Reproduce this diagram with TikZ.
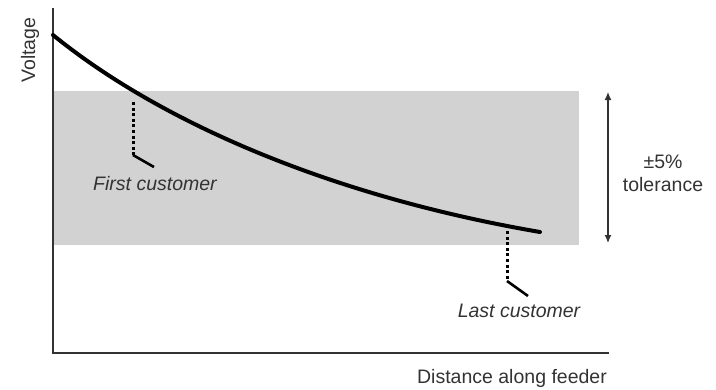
\documentclass[tikz,border=0pt]{standalone}
\usepackage{fontspec}
\setmainfont{Liberation Sans}
\usetikzlibrary{arrows.meta}
\definecolor{bandgray}{HTML}{D2D2D2}
\definecolor{inkgray}{HTML}{333333}
\begin{document}
\begin{tikzpicture}[x=1pt,y=-1pt,
  axis/.style={draw=inkgray, line width=1.3pt},
  curve/.style={draw=black, line width=4pt, line cap=round},
  drop/.style={draw=black, line width=3pt, dash pattern=on 3pt off 2.6pt},
  lead/.style={draw=black, line width=2.6pt},
  lbl/.style={text=inkgray, font=\fontsize{19.5}{23}\selectfont, inner sep=0pt},
  ilbl/.style={lbl, font=\fontsize{19.5}{23}\selectfont\itshape}]
\useasboundingbox (0,0) rectangle (716,389);
% tolerance band
\fill[bandgray] (53,91) rectangle (579,245);
% axes
\coordinate (o) at (53,353);
\coordinate (ytop) at (53,8);
\coordinate (xend) at (609,353);
\draw[axis] (ytop) -- (o) -- (xend);
% voltage profile along the feeder
\coordinate (vstart) at (53,35);
\coordinate (vend) at (540,232);
\draw[curve] (vstart) .. controls (160,122) and (330,196) .. (vend);
% first customer
\coordinate (fc) at (133,102);
\coordinate (fcb) at (133,155);
\coordinate (fct) at (154,167);
\draw[drop] (fc) -- (fcb);
\draw[lead] (fcb) -- (fct);
\node[ilbl] (first) at (155,184) {First customer};
% last customer
\coordinate (lc) at (507,231);
\coordinate (lcb) at (507,281);
\coordinate (lct) at (528,296);
\draw[drop] (lc) -- (lcb);
\draw[lead] (lcb) -- (lct);
\node[ilbl] (last) at (519,311) {Last customer};
% tolerance arrow
\coordinate (tt) at (608,92);
\coordinate (tb) at (608,243);
\draw[draw=inkgray, line width=1.2pt, {Latex[length=8pt,width=7pt]}-{Latex[length=8pt,width=7pt]}] (tt) -- (tb);
\node[lbl, align=center] (tol) at (663,173) {±5\%\\tolerance};
% axis titles
\node[lbl, rotate=90] (vlabel) at (30,50) {Voltage};
\node[lbl] (xlabel) at (512,378) {Distance along feeder};
\end{tikzpicture}
\end{document}
